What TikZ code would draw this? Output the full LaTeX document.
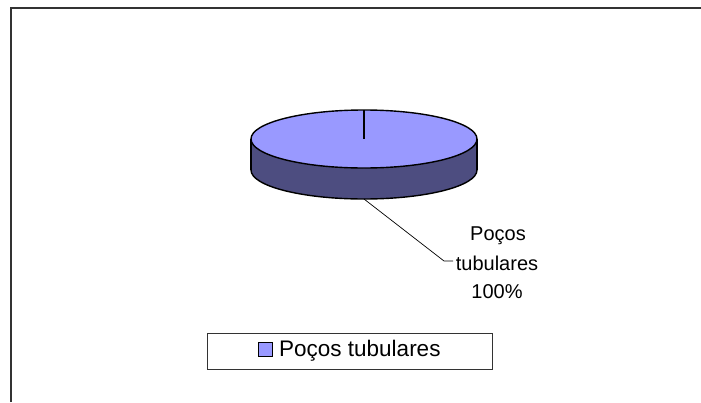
\documentclass[tikz,border=0pt]{standalone}
\usepackage{fontspec}
\setmainfont{Liberation Sans}
\definecolor{pietop}{HTML}{9999FF}
\definecolor{pieside}{HTML}{4D4D80}
\definecolor{framegray}{HTML}{333333}
\begin{document}
\begin{tikzpicture}[x=1pt,y=-1pt,
  outline/.style={draw=black,line width=1.4pt},
  lbltext/.style={font=\fontsize{20}{24}\selectfont,inner sep=0pt,anchor=base},
  legtext/.style={font=\fontsize{22.5}{27}\selectfont,inner sep=0pt,anchor=base west}]
\useasboundingbox (0,0) rectangle (701,402);
% frame
\draw[framegray,line width=1.3pt] (11,402) -- (11,8) -- (701,8);
% pie side
\fill[pieside] (364,170) ellipse[x radius=113,y radius=29];
\draw[outline] (364,170) ellipse[x radius=113,y radius=29];
\fill[pieside] (251,139) rectangle (477,170);
\draw[outline] (251,139) -- (251,170);
\draw[outline] (477,139) -- (477,170);
% pie top
\fill[pietop] (364,139) ellipse[x radius=113,y radius=29];
\draw[outline] (364,139) ellipse[x radius=113,y radius=29];
\draw[black,line width=2pt] (364,110) -- (364,139);
\coordinate (piebot) at (364,199);
\coordinate (elbow) at (444,261);
\coordinate (lblend) at (453,261);
% data label
\node[lbltext] (l1) at (498,240) {Poços};
\node[lbltext] (l2) at (497,270) {tubulares};
\node[lbltext] (l3) at (497,298) {100\%};
\draw[black,line width=0.7pt] (piebot) -- (elbow) -- (lblend);
% legend
\node[draw=framegray,line width=1pt,minimum width=285pt,minimum height=36pt,inner sep=0pt] (legend) at (349.5,351) {};
\node[draw=black,line width=1pt,fill=pietop,minimum size=14pt,inner sep=0pt] (legkey) at (265,349) {};
\node[legtext] (legtxt) at (279,356) {Poços tubulares};
\end{tikzpicture}
\end{document}
